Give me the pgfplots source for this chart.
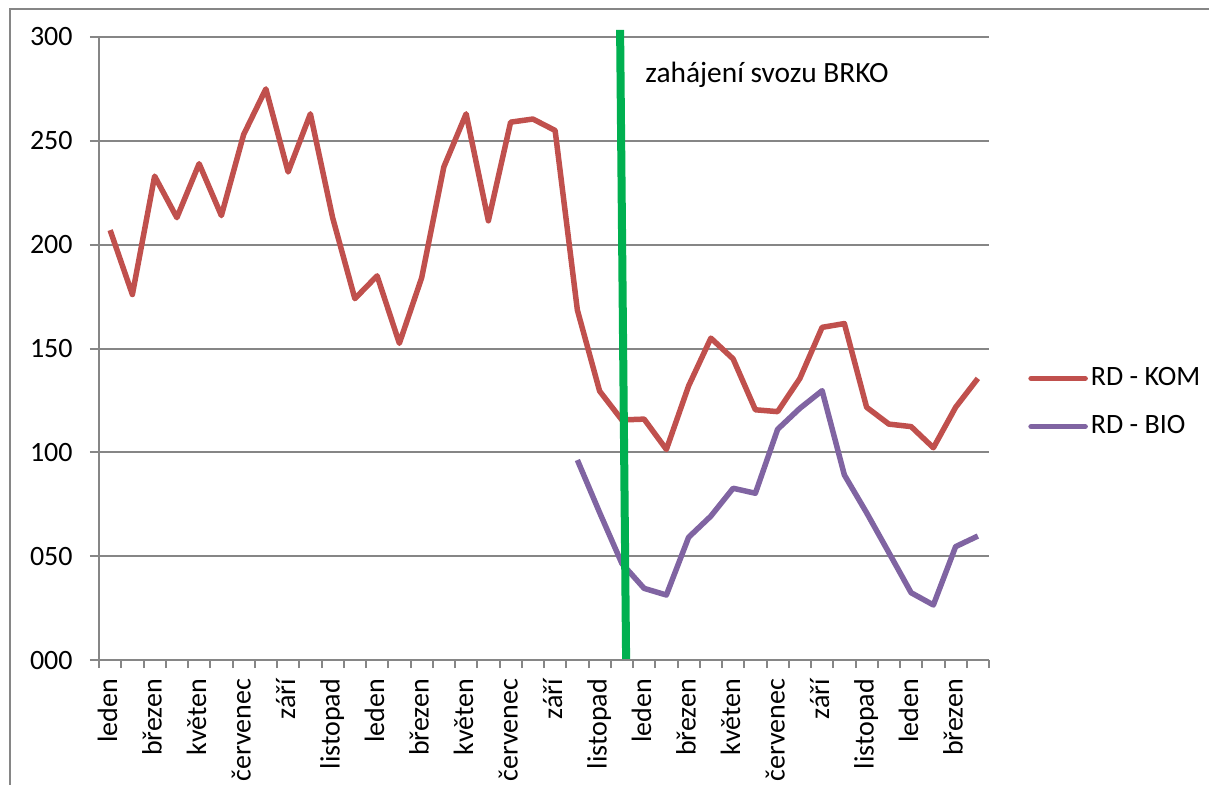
\documentclass[border=0pt]{standalone}
\usepackage{fontspec}
\setmainfont{Carlito}
\usepackage{pgfplots}
\pgfplotsset{compat=1.18}
\definecolor{komred}{RGB}{192,80,77}
\definecolor{biopurple}{RGB}{128,100,162}
\definecolor{brkogreen}{RGB}{0,176,80}
\definecolor{axgray}{RGB}{134,134,134}

\begin{document}
\fontsize{14}{17}\selectfont
\begin{tikzpicture}
\useasboundingbox (-49.5pt,-62pt) rectangle (555pt,330pt);
\draw[axgray, line width=0.75pt] (-44.5pt,-70pt) -- (-44.5pt,325.5pt) -- (560pt,325.5pt);
\begin{axis}[
  at={(0pt,0pt)}, anchor=south west, scale only axis,
  width=445pt, height=311.5pt,
  xmin=-0.5, xmax=39.5, ymin=0, ymax=300,
  clip=false,
  axis x line*=bottom, axis y line*=left,
  axis line style={axgray, line width=1pt, -},
  ytick={0,50,...,300},
  yticklabels={000,050,100,150,200,250,300},
  ymajorgrids, grid style={axgray, line width=1pt},
  xtick={0,2,...,38},
  xticklabels={leden,březen,květen,červenec,září,listopad,leden,březen,květen,červenec,září,listopad,leden,březen,květen,červenec,září,listopad,leden,březen},
  minor xtick={-0.5,0.5,...,39.5},
  tick align=outside,
  tick style={axgray, line width=1pt},
  major tick length=4.5pt, minor tick length=4pt,
  major x tick style={draw=none},
  /pgf/number format/assume math mode=true,
  yticklabel style={anchor=east, inner sep=0pt, xshift=-8.5pt},
  xticklabel style={rotate=90, anchor=east, inner sep=0pt, outer xsep=5pt,
    text height=10pt, text depth=3pt},
  legend style={at={(axis description cs:1.0438,0.4133)}, anchor=west, draw=none, fill=none,
    row sep=10pt, inner sep=0pt, nodes={inner sep=1.5pt}},
  legend cell align=left,
  legend image code/.code={\draw[#1, line cap=round] (0pt,0pt) -- (27pt,0pt);},
]
\addplot[komred, line width=2.75pt, line join=round] coordinates {
(0,207) (1,176) (2,233) (3,213) (4,239) (5,214) (6,253) (7,275) (8,235) (9,263)
(10,213) (11,174) (12,185) (13,152.5) (14,184) (15,237.5) (16,263) (17,211.5) (18,259) (19,260.5)
(20,255) (21,168.5) (22,129.5) (23,115.6) (24,116) (25,101.4) (26,132) (27,155) (28,145) (29,120.5)
(30,119.6) (31,135.6) (32,160.2) (33,162) (34,121.7) (35,113.6) (36,112.4) (37,102.2) (38,121.7) (39,135.6)
};
\addlegendentry{RD - KOM}
\addplot[biopurple, line width=2.75pt, line join=round] coordinates {
(21,96.3) (22,71) (23,46.5) (24,34.5) (25,31.3) (26,59.1) (27,69.3) (28,82.7) (29,80.3)
(30,111.1) (31,121.2) (32,129.7) (33,89.1) (34,70.9) (35,51.7) (36,32.4) (37,26.5) (38,54.6) (39,59.7)
};
\addlegendentry{RD - BIO}
\addplot[brkogreen, line width=4pt, forget plot] coordinates {(22.92,303.4) (23.19,0.5)};
\node[anchor=base west, inner sep=0pt, font=\fontsize{14.7}{17}\selectfont] at (axis cs:24.04,278.3) {zahájení svozu BRKO};
\end{axis}
\end{tikzpicture}
\end{document}
